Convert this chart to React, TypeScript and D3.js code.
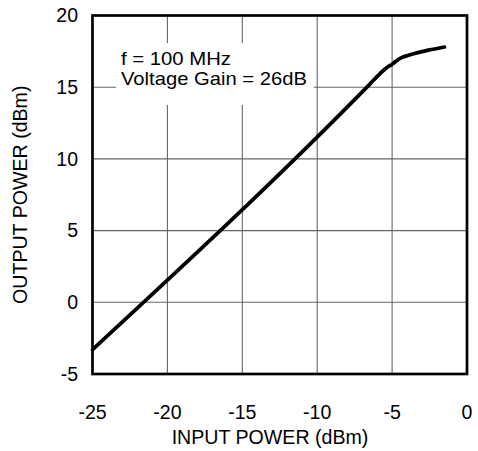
import React from "react";
import * as d3 from "d3";

const inputPower = [-25, -6.5, -5.8, -5.3, -5.0, -4.7, -4.4, -4.0, -3.5, -3.0, -2.5, -2.0, -1.5];
const outputPower = [-3.3, 15.2, 15.95, 16.4, 16.6, 16.85, 17.05, 17.2, 17.35, 17.48, 17.6, 17.7, 17.8];
const xTicks = [-25, -20, -15, -10, -5, 0];
const yTicks = [-5, 0, 5, 10, 15, 20];
const annotation = ["f = 100 MHz", "Voltage Gain = 26dB"];
const xTitle = "INPUT POWER (dBm)";
const yTitle = "OUTPUT POWER (dBm)";

const W = 478;
const H = 451;
const L = 92.5, R = 467, T = 15.5, B = 374;
const FONT = "'Liberation Sans', Arial, Helvetica, sans-serif";
const annotationWidths = [110, 186];

export default function App() {
  const x = d3.scaleLinear().domain([-25, 0]).range([L, R]);
  const y = d3.scaleLinear().domain([-5, 20]).range([B, T]);
  const pts = inputPower.map((v, i) => [v, outputPower[i]] as [number, number]);
  const line = d3
    .line<[number, number]>()
    .x((d) => x(d[0]))
    .y((d) => y(d[1]))
    .curve(d3.curveMonotoneX);

  return (
    <svg
      width={W}
      height={H}
      style={{ position: "absolute", left: 0, top: 0, background: "#fff" }}
      fontFamily={FONT}
    >
      <rect x={0} y={0} width={W} height={H} fill="#fff" />
      {xTicks.map((t) => (
        <line key={"gx" + t} x1={x(t)} x2={x(t)} y1={T} y2={B} stroke="#666" strokeWidth={1.1} />
      ))}
      {yTicks.map((t) => (
        <line key={"gy" + t} x1={L} x2={R} y1={y(t)} y2={y(t)} stroke="#666" strokeWidth={1.1} />
      ))}
      <rect x={116} y={43} width={198} height={62} fill="#fff" />
      {annotation.map((s, i) => (
        <text key={s} x={121} y={65 + i * 20} fontSize={19} fill="#000" textLength={annotationWidths[i]} lengthAdjust="spacingAndGlyphs">
          {s}
        </text>
      ))}
      <path d={line(pts) || ""} fill="none" stroke="#000" strokeWidth={3.7} strokeLinecap="round" strokeLinejoin="round" />
      <rect x={L} y={T} width={R - L} height={B - T} fill="none" stroke="#000" strokeWidth={2.7} />
      {xTicks.map((t) => (
        <text key={"tx" + t} x={x(t)} y={419} fontSize={19.5} textAnchor="middle" fill="#000">
          {t}
        </text>
      ))}
      {yTicks.map((t) => (
        <text key={"ty" + t} x={78} y={y(t)} dy="0.35em" fontSize={19.5} textAnchor="end" fill="#000">
          {t}
        </text>
      ))}
      <text x={270} y={444} fontSize={19.6} textAnchor="middle" fill="#000">
        {xTitle}
      </text>
      <text
        transform={`translate(27, ${(T + B) / 2}) rotate(-90)`}
        fontSize={19.6}
        textAnchor="middle"
        fill="#000"
      >
        {yTitle}
      </text>
    </svg>
  );
}
